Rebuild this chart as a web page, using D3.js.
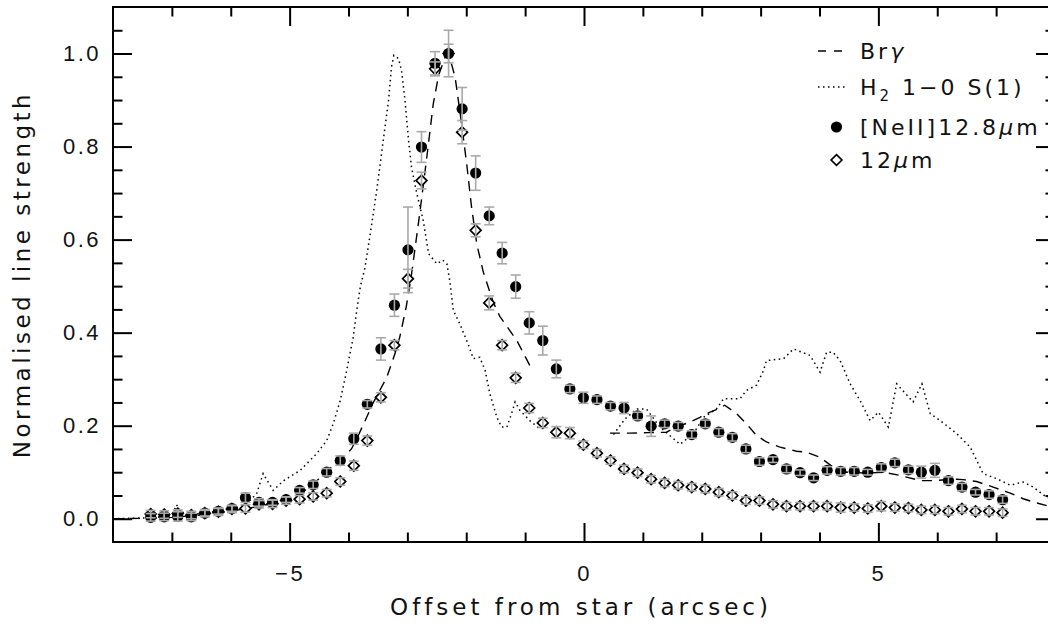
<!DOCTYPE html>
<html>
<head>
<meta charset="utf-8">
<script src="https://cdn.jsdelivr.net/npm/d3@7"></script>
<style>
  html, body { margin: 0; padding: 0; background: #ffffff; }
  svg { display: block; font-family: "DejaVu Sans", sans-serif; }
</style>
</head>
<body>
<svg id="chart" width="1048" height="632"></svg>
<script>
// Slit positions (arcsec from the star)
const offsets = [
  -7.36, -7.13, -6.90, -6.67, -6.44, -6.21, -5.98, -5.75, -5.52, -5.29,
  -5.06, -4.83, -4.60, -4.37, -4.14, -3.91, -3.68, -3.45, -3.22, -2.99,
  -2.76, -2.53, -2.30, -2.07, -1.84, -1.61, -1.39, -1.16, -0.93, -0.70,
  -0.47, -0.24, -0.01, 0.22, 0.45, 0.68, 0.91, 1.14, 1.37, 1.60,
  1.83, 2.06, 2.29, 2.52, 2.75, 2.98, 3.21, 3.44, 3.67, 3.90,
  4.13, 4.36, 4.59, 4.82, 5.05, 5.28, 5.51, 5.73, 5.96, 6.19,
  6.42, 6.65, 6.88, 7.11
];

// [NeII] 12.8 micron line strength and its uncertainty
const neii = [
  0.003, 0.004, 0.005, 0.004, 0.012, 0.016, 0.022, 0.045, 0.035, 0.035,
  0.041, 0.061, 0.073, 0.100, 0.125, 0.172, 0.246, 0.365, 0.459, 0.578,
  0.799, 0.979, 1.000, 0.881, 0.743, 0.651, 0.571, 0.499, 0.421, 0.383,
  0.322, 0.279, 0.260, 0.256, 0.242, 0.238, 0.221, 0.199, 0.204, 0.199,
  0.181, 0.204, 0.186, 0.175, 0.150, 0.123, 0.127, 0.107, 0.099, 0.088,
  0.104, 0.102, 0.102, 0.100, 0.110, 0.120, 0.105, 0.100, 0.104, 0.082,
  0.068, 0.057, 0.052, 0.041
];
const neiiErr = [
  0.008, 0.008, 0.010, 0.008, 0.006, 0.006, 0.006, 0.010, 0.008, 0.006,
  0.006, 0.006, 0.008, 0.008, 0.010, 0.012, 0.008, 0.024, 0.024, 0.092,
  0.033, 0.025, 0.050, 0.046, 0.037, 0.019, 0.023, 0.025, 0.024, 0.031,
  0.019, 0.008, 0.012, 0.008, 0.008, 0.012, 0.008, 0.022, 0.008, 0.008,
  0.008, 0.008, 0.008, 0.008, 0.008, 0.008, 0.006, 0.008, 0.006, 0.006,
  0.008, 0.008, 0.008, 0.006, 0.008, 0.008, 0.008, 0.013, 0.015, 0.008,
  0.008, 0.006, 0.008, 0.008
];

// 12 micron continuum and its uncertainty
const mir12 = [
  0.010, 0.009, 0.011, 0.008, 0.012, 0.015, 0.021, 0.022, 0.031, 0.032,
  0.039, 0.042, 0.048, 0.055, 0.080, 0.114, 0.168, 0.261, 0.373, 0.516,
  0.727, 0.967, 1.000, 0.831, 0.620, 0.464, 0.373, 0.303, 0.238, 0.206,
  0.186, 0.184, 0.159, 0.141, 0.125, 0.107, 0.099, 0.085, 0.077, 0.072,
  0.068, 0.064, 0.057, 0.050, 0.039, 0.039, 0.031, 0.027, 0.027, 0.027,
  0.027, 0.024, 0.024, 0.022, 0.027, 0.024, 0.023, 0.019, 0.019, 0.016,
  0.021, 0.016, 0.016, 0.013
];
const mir12Err = [
  0.008, 0.008, 0.008, 0.008, 0.008, 0.008, 0.008, 0.008, 0.008, 0.008,
  0.008, 0.008, 0.008, 0.008, 0.008, 0.010, 0.010, 0.010, 0.010, 0.020,
  0.018, 0.015, 0.020, 0.025, 0.014, 0.015, 0.010, 0.010, 0.010, 0.010,
  0.012, 0.012, 0.008, 0.008, 0.008, 0.008, 0.008, 0.008, 0.008, 0.008,
  0.008, 0.008, 0.008, 0.008, 0.008, 0.008, 0.008, 0.008, 0.008, 0.008,
  0.008, 0.010, 0.008, 0.008, 0.010, 0.008, 0.008, 0.008, 0.008, 0.008,
  0.008, 0.008, 0.008, 0.008
];

// Br-gamma profile (NaN marks the masked region around the star)
const brgOffset = [
  -8.00, -7.40, -7.00, -6.50, -6.00, -5.50, -5.00, -4.75, -4.51, -4.30,
  -4.10, -3.95, -3.83, -3.72, -3.59, -3.35, -3.21, -3.13, -3.02, -2.93,
  -2.85, -2.79, -2.67, -2.56, -2.47, -2.36, -2.30, -2.19, -2.08, -1.99,
  -1.91, -1.82, -1.71, -1.54, -1.43, -1.14, -0.89, NaN,
  0.44, 0.78, 1.10, 1.40, 1.57, 1.80, 1.97, 2.08, 2.28, 2.39,
  2.59, 2.76, 2.93, 3.10, 3.33, 3.61, 3.78, 4.01, 4.23, 4.46,
  4.80, 5.08, 5.37, 5.71, 5.93, 6.27, 6.44, 6.67, 6.95, 7.24,
  7.46, 7.63, 7.95
];
const brgStrength = [
  0.000, 0.001, 0.003, 0.008, 0.016, 0.027, 0.042, 0.060, 0.085, 0.110,
  0.130, 0.150, 0.180, 0.210, 0.247, 0.304, 0.355, 0.390, 0.455, 0.525,
  0.600, 0.656, 0.777, 0.892, 0.953, 0.992, 1.000, 0.950, 0.850, 0.760,
  0.670, 0.590, 0.530, 0.465, 0.435, 0.383, 0.322, NaN,
  0.184, 0.184, 0.185, 0.186, 0.197, 0.208, 0.218, 0.226, 0.236, 0.244,
  0.226, 0.204, 0.179, 0.165, 0.154, 0.145, 0.143, 0.132, 0.111, 0.100,
  0.098, 0.100, 0.093, 0.082, 0.082, 0.085, 0.084, 0.080, 0.068, 0.055,
  0.043, 0.036, 0.025
];

// H2 1-0 S(1) profile
const h2Offset = [
  -8.00, -7.40, -7.10, -6.98, -6.92, -6.85, -6.60, -6.30, -6.00, -5.75,
  -5.56, -5.45, -5.28, -5.10, -4.82, -4.54, -4.37, -4.26, -4.14, -4.03,
  -3.92, -3.86, -3.80, -3.72, -3.63, -3.52, -3.41, -3.32, -3.27, -3.23,
  -3.15, -3.10, -3.04, -2.98, -2.93, -2.84, -2.73, -2.64, -2.50, -2.40,
  -2.33, -2.28, -2.22, -2.11, -1.97, -1.88, -1.77, -1.68, -1.60, -1.48,
  -1.40, -1.31, -1.23, -1.17, -1.09, -0.92, -0.75, NaN,
  0.50, 0.70, 0.90, 1.06, 1.29, 1.63, 1.86, 2.03, 2.25, 2.37,
  2.65, 2.76, 2.93, 3.05, 3.10, 3.39, 3.56, 3.84, 4.01, 4.12,
  4.23, 4.35, 4.52, 4.69, 4.86, 5.00, 5.17, 5.31, 5.59, 5.74,
  5.88, 6.05, 6.33, 6.56, 6.78, 7.01, 7.24, 7.46, 7.63, 7.86,
  8.00
];
const h2Strength = [
  0.000, 0.002, 0.005, 0.012, 0.030, 0.014, 0.010, 0.013, 0.020, 0.030,
  0.054, 0.097, 0.061, 0.082, 0.104, 0.140, 0.168, 0.204, 0.254, 0.319,
  0.390, 0.448, 0.498, 0.540, 0.613, 0.706, 0.813, 0.899, 0.971, 0.996,
  0.989, 0.964, 0.899, 0.813, 0.756, 0.699, 0.641, 0.570, 0.548, 0.556,
  0.548, 0.512, 0.448, 0.419, 0.376, 0.344, 0.347, 0.319, 0.269, 0.218,
  0.197, 0.197, 0.226, 0.251, 0.233, 0.211, 0.193, NaN,
  0.181, 0.215, 0.236, 0.236, 0.197, 0.160, 0.183, 0.218, 0.236, 0.258,
  0.258, 0.276, 0.287, 0.319, 0.340, 0.344, 0.365, 0.351, 0.315, 0.358,
  0.358, 0.340, 0.290, 0.254, 0.211, 0.229, 0.197, 0.290, 0.251, 0.290,
  0.226, 0.211, 0.183, 0.154, 0.097, 0.086, 0.072, 0.079, 0.068, 0.046,
  0.040
];

const xMajorTicks = [-5, 0, 5];
const xMinorTicks = [-7, -6, -4, -3, -2, -1, 1, 2, 3, 4, 6, 7];
const yMajorTicks = [0.0, 0.2, 0.4, 0.6, 0.8, 1.0];
const yMinorTicks = [0.05, 0.10, 0.15, 0.25, 0.30, 0.35, 0.45, 0.50, 0.55,
                     0.65, 0.70, 0.75, 0.85, 0.90, 0.95, 1.05];

const xTitle = "Offset from star (arcsec)";
const yTitle = "Normalised line strength";

const svg = d3.select("#chart");
const x = d3.scaleLinear().domain([-8, 8]).range([113, 1055]);
const y = d3.scaleLinear().domain([-0.05, 1.1]).range([542, 7]);
const [x0, x1] = x.range();
const [yB, yT] = y.range();

const fontSize = 22;
const ink = "#000";
const errGrey = "#a9a9a9";

// ---- axes: major and minor ticks pointing inward on all four sides
function styleAxis(g) {
  g.select(".domain").remove();
  g.selectAll(".tick line").attr("stroke", ink).attr("stroke-width", 2);
  g.selectAll(".tick text")
    .attr("fill", "#111")
    .style("font-size", fontSize + "px")
    .style("letter-spacing", "2.5px");
}

const fmtY = d3.format(".1f");

svg.append("g").attr("transform", `translate(0,${yB})`)
  .call(d3.axisBottom(x).tickValues(xMajorTicks).tickSizeInner(-19).tickSizeOuter(0).tickPadding(23))
  .call(styleAxis);
svg.append("g").attr("transform", `translate(0,${yB})`)
  .call(d3.axisBottom(x).tickValues(xMinorTicks).tickSizeInner(-9.5).tickSizeOuter(0).tickFormat(""))
  .call(styleAxis);
svg.append("g").attr("transform", `translate(0,${yT})`)
  .call(d3.axisTop(x).tickValues(xMajorTicks).tickSizeInner(-19).tickSizeOuter(0).tickFormat(""))
  .call(styleAxis);
svg.append("g").attr("transform", `translate(0,${yT})`)
  .call(d3.axisTop(x).tickValues(xMinorTicks).tickSizeInner(-9.5).tickSizeOuter(0).tickFormat(""))
  .call(styleAxis);

svg.append("g").attr("transform", `translate(${x0},0)`)
  .call(d3.axisLeft(y).tickValues(yMajorTicks).tickSizeInner(-19).tickSizeOuter(0).tickPadding(12).tickFormat(fmtY))
  .call(styleAxis);
svg.append("g").attr("transform", `translate(${x0},0)`)
  .call(d3.axisLeft(y).tickValues(yMinorTicks).tickSizeInner(-9.5).tickSizeOuter(0).tickFormat(""))
  .call(styleAxis);
svg.append("g").attr("transform", `translate(${x1},0)`)
  .call(d3.axisRight(y).tickValues(yMajorTicks).tickSizeInner(-19).tickSizeOuter(0).tickFormat(""))
  .call(styleAxis);
svg.append("g").attr("transform", `translate(${x1},0)`)
  .call(d3.axisRight(y).tickValues(yMinorTicks).tickSizeInner(-9.5).tickSizeOuter(0).tickFormat(""))
  .call(styleAxis);

// frame
svg.append("rect")
  .attr("x", x0).attr("y", yT).attr("width", x1 - x0).attr("height", yB - yT)
  .attr("fill", "none").attr("stroke", ink).attr("stroke-width", 2);

// axis titles
svg.append("text")
  .attr("x", (x0 + x1) / 2 - 3).attr("y", 615)
  .attr("text-anchor", "middle")
  .style("font-size", "23px").style("letter-spacing", "4px")
  .attr("fill", "#111")
  .text(xTitle);
svg.append("text")
  .attr("transform", `translate(30,${(yB + yT) / 2}) rotate(-90)`)
  .attr("text-anchor", "middle")
  .style("font-size", "23px").style("letter-spacing", "3.5px")
  .attr("fill", "#111")
  .text(yTitle);

// ---- plot contents, clipped to the frame
svg.append("clipPath").attr("id", "plotClip")
  .append("rect").attr("x", x0).attr("y", yT).attr("width", x1 - x0).attr("height", yB - yT);
const plot = svg.append("g").attr("clip-path", "url(#plotClip)");

const profile = d3.line()
  .defined(d => !isNaN(d[0]) && !isNaN(d[1]))
  .x(d => x(d[0])).y(d => y(d[1]));

plot.append("path")
  .datum(d3.zip(brgOffset, brgStrength))
  .attr("d", profile)
  .attr("fill", "none").attr("stroke", ink).attr("stroke-width", 1.4)
  .attr("stroke-dasharray", "10,7");

plot.append("path")
  .datum(d3.zip(h2Offset, h2Strength))
  .attr("d", profile)
  .attr("fill", "none").attr("stroke", ink).attr("stroke-width", 1.5)
  .attr("stroke-dasharray", "1.5,3.5");

const neiiPts = offsets.map((o, i) => ({ o, v: neii[i], e: neiiErr[i] }));
const mirPts = offsets.map((o, i) => ({ o, v: mir12[i], e: mir12Err[i] }));

function errorBars(sel, data) {
  const g = sel.append("g").attr("stroke", errGrey).attr("stroke-width", 1.6).attr("fill", "none");
  const cap = 5;
  const bars = g.selectAll("g").data(data).join("g");
  bars.append("line")
    .attr("x1", d => x(d.o)).attr("x2", d => x(d.o))
    .attr("y1", d => y(d.v - d.e)).attr("y2", d => y(d.v + d.e));
  bars.append("line")
    .attr("x1", d => x(d.o) - cap).attr("x2", d => x(d.o) + cap)
    .attr("y1", d => y(d.v - d.e)).attr("y2", d => y(d.v - d.e));
  bars.append("line")
    .attr("x1", d => x(d.o) - cap).attr("x2", d => x(d.o) + cap)
    .attr("y1", d => y(d.v + d.e)).attr("y2", d => y(d.v + d.e));
}

// open diamonds: 12 micron (drawn underneath the [NeII] circles)
const dia = 5.4;
const diamondPath = `M0,${-dia}L${dia},0L0,${dia}L${-dia},0Z`;
plot.append("g").selectAll("path").data(mirPts).join("path")
  .attr("transform", d => `translate(${x(d.o)},${y(d.v)})`)
  .attr("d", diamondPath)
  .attr("fill", "#fff").attr("stroke", ink).attr("stroke-width", 1.7);

// filled circles: [NeII]
plot.append("g").selectAll("circle").data(neiiPts).join("circle")
  .attr("cx", d => x(d.o)).attr("cy", d => y(d.v)).attr("r", 5.6)
  .attr("fill", ink);

errorBars(plot, mirPts);
errorBars(plot, neiiPts);

// ---- legend
const legend = svg.append("g").style("font-size", fontSize + "px").attr("fill", "#111");
const lx0 = 818, tx = 860;
const rows = [51, 87, 127, 160];

legend.append("line").attr("x1", lx0).attr("x2", lx0 + 24).attr("y1", rows[0]).attr("y2", rows[0])
  .attr("stroke", ink).attr("stroke-width", 1.4).attr("stroke-dasharray", "8,8");
legend.append("line").attr("x1", lx0).attr("x2", lx0 + 28).attr("y1", rows[1]).attr("y2", rows[1])
  .attr("stroke", ink).attr("stroke-width", 1.5).attr("stroke-dasharray", "1.5,3.5");
legend.append("circle").attr("cx", 836.5).attr("cy", rows[2]).attr("r", 5.6).attr("fill", ink);
legend.append("path").attr("transform", `translate(836.5,${rows[3]})`).attr("d", diamondPath)
  .attr("fill", "#fff").attr("stroke", ink).attr("stroke-width", 1.7);

function legendText(row) {
  return legend.append("text").attr("x", tx).attr("y", row).attr("dy", "0.36em")
    .style("letter-spacing", "3px");
}
const t1 = legendText(rows[0]);
t1.append("tspan").text("Br");
t1.append("tspan").style("font-style", "italic").text("γ");

const t2 = legendText(rows[1]);
t2.append("tspan").text("H");
t2.append("tspan").attr("dy", "6").style("font-size", "15px").text("2");
t2.append("tspan").attr("dy", "-6").text(" 1−0 S(1)");

const t3 = legendText(rows[2]);
t3.append("tspan").text("[NeII]12.8");
t3.append("tspan").style("font-style", "italic").text("μ");
t3.append("tspan").text("m");

const t4 = legendText(rows[3]);
t4.append("tspan").text("12");
t4.append("tspan").style("font-style", "italic").text("μ");
t4.append("tspan").text("m");
</script>
</body>
</html>
